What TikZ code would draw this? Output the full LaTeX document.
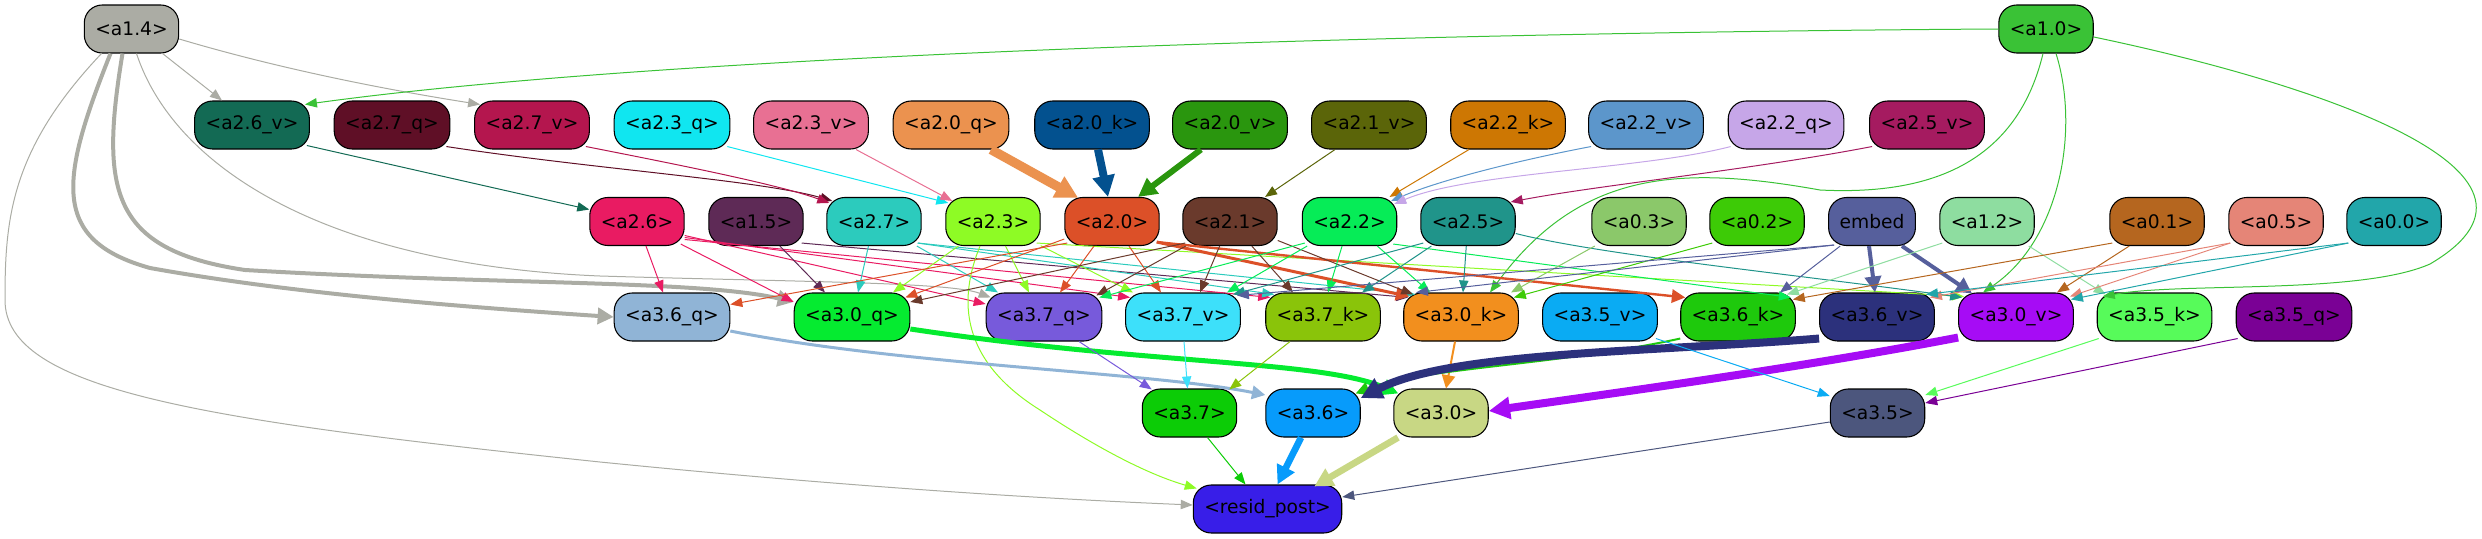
\documentclass[tikz,border=0pt]{standalone}
\usepackage{fontspec}
\setmainfont{DejaVu Sans}
\usetikzlibrary{arrows.meta,calc}
\definecolor{ca14}{HTML}{ABACA4}
\definecolor{ca10}{HTML}{3AC236}
\definecolor{ca26v}{HTML}{136A54}
\definecolor{ca27q}{HTML}{5F0F26}
\definecolor{ca27v}{HTML}{B4164E}
\definecolor{ca23q}{HTML}{10E6F0}
\definecolor{ca23v}{HTML}{E87093}
\definecolor{ca20q}{HTML}{EB924F}
\definecolor{ca20k}{HTML}{03518F}
\definecolor{ca20v}{HTML}{2A960E}
\definecolor{ca21v}{HTML}{5B6509}
\definecolor{ca22k}{HTML}{CD7703}
\definecolor{ca22v}{HTML}{5C96CB}
\definecolor{ca22q}{HTML}{C6A6E8}
\definecolor{ca25v}{HTML}{A51B60}
\definecolor{ca26}{HTML}{E91B62}
\definecolor{ca15}{HTML}{5E2A56}
\definecolor{ca27}{HTML}{2CCBBD}
\definecolor{ca23}{HTML}{8EFB25}
\definecolor{ca20}{HTML}{DC5028}
\definecolor{ca21}{HTML}{6A3A2C}
\definecolor{ca22}{HTML}{06EC57}
\definecolor{ca25}{HTML}{20948A}
\definecolor{ca03}{HTML}{8BC86A}
\definecolor{ca02}{HTML}{3DCB06}
\definecolor{cemb}{HTML}{565F9C}
\definecolor{ca12}{HTML}{8EDDA0}
\definecolor{ca01}{HTML}{B5661F}
\definecolor{ca05}{HTML}{E58577}
\definecolor{ca00}{HTML}{22A6AA}
\definecolor{ca36q}{HTML}{90B4D6}
\definecolor{ca30q}{HTML}{05EB30}
\definecolor{ca37q}{HTML}{775ADB}
\definecolor{ca37v}{HTML}{3DE0FA}
\definecolor{ca37k}{HTML}{8AC40A}
\definecolor{ca30k}{HTML}{F28F1E}
\definecolor{ca35v}{HTML}{0AABF3}
\definecolor{ca36k}{HTML}{1EC90C}
\definecolor{ca36v}{HTML}{2C317C}
\definecolor{ca30v}{HTML}{A60CF5}
\definecolor{ca35k}{HTML}{57FB5A}
\definecolor{ca35q}{HTML}{7A0195}
\definecolor{ca37}{HTML}{0CCC06}
\definecolor{ca36}{HTML}{079BFB}
\definecolor{ca30}{HTML}{C8D784}
\definecolor{ca35}{HTML}{4C567D}
\definecolor{crp}{HTML}{381EE8}
\begin{document}
\begin{tikzpicture}[x=0.75pt,y=-0.75pt,
  nd/.style={draw=black,line width=0.8pt,rounded corners=13.5pt,minimum height=36pt,inner xsep=8.25pt,inner ysep=0pt,font=\fontsize{14}{16}\selectfont,text=black},
  ed/.style={line width=0.75pt,-{Triangle[length=9pt,width=7pt]}},
  tip/.style={-{Triangle[length=#1,width=#1]}}]
\useasboundingbox (0,0) rectangle (2482,539);
% row 1
\node[nd,fill=ca14] (a14) at (131.5,29) {<a1.4>};
\node[nd,fill=ca10] (a10) at (2046,29) {<a1.0>};
% row 2
\node[nd,fill=ca26v] (a26v) at (252,125) {<a2.6\_v>};
\node[nd,fill=ca27q] (a27q) at (392,125) {<a2.7\_q>};
\node[nd,fill=ca27v] (a27v) at (532,125) {<a2.7\_v>};
\node[nd,fill=ca23q] (a23q) at (672,125) {<a2.3\_q>};
\node[nd,fill=ca23v] (a23v) at (811,125) {<a2.3\_v>};
\node[nd,fill=ca20q] (a20q) at (951,125) {<a2.0\_q>};
\node[nd,fill=ca20k] (a20k) at (1092,125) {<a2.0\_k>};
\node[nd,fill=ca20v] (a20v) at (1230,125) {<a2.0\_v>};
\node[nd,fill=ca21v] (a21v) at (1369,125) {<a2.1\_v>};
\node[nd,fill=ca22k] (a22k) at (1508,125) {<a2.2\_k>};
\node[nd,fill=ca22v] (a22v) at (1646,125) {<a2.2\_v>};
\node[nd,fill=ca22q] (a22q) at (1786,125) {<a2.2\_q>};
\node[nd,fill=ca25v] (a25v) at (1927,125) {<a2.5\_v>};
% row 2b
\node[nd,fill=ca26] (a26) at (637,221.5) {<a2.6>};
\node[nd,fill=ca15] (a15) at (756,221.5) {<a1.5>};
\node[nd,fill=ca27] (a27) at (874,221.5) {<a2.7>};
\node[nd,fill=ca23] (a23) at (993,221.5) {<a2.3>};
\node[nd,fill=ca20] (a20) at (1112,221.5) {<a2.0>};
\node[nd,fill=ca21] (a21) at (1230,221.5) {<a2.1>};
\node[nd,fill=ca22] (a22) at (1349.5,221.5) {<a2.2>};
\node[nd,fill=ca25] (a25) at (1468,221.5) {<a2.5>};
\node[nd,fill=ca03] (a03) at (1639,221.5) {<a0.3>};
\node[nd,fill=ca02] (a02) at (1757,221.5) {<a0.2>};
\node[nd,fill=cemb] (emb) at (1872,221.5) {embed};
\node[nd,fill=ca12] (a12) at (1987,221.5) {<a1.2>};
\node[nd,fill=ca01] (a01) at (2157,221.5) {<a0.1>};
\node[nd,fill=ca05] (a05) at (2276,221.5) {<a0.5>};
\node[nd,fill=ca00] (a00) at (2394,221.5) {<a0.0>};
% row 3
\node[nd,fill=ca36q] (a36q) at (672,317) {<a3.6\_q>};
\node[nd,fill=ca30q] (a30q) at (852,317) {<a3.0\_q>};
\node[nd,fill=ca37q] (a37q) at (1044,317) {<a3.7\_q>};
\node[nd,fill=ca37v] (a37v) at (1183,317) {<a3.7\_v>};
\node[nd,fill=ca37k] (a37k) at (1323,317) {<a3.7\_k>};
\node[nd,fill=ca30k] (a30k) at (1461,317) {<a3.0\_k>};
\node[nd,fill=ca35v] (a35v) at (1600,317) {<a3.5\_v>};
\node[nd,fill=ca36k] (a36k) at (1738,317) {<a3.6\_k>};
\node[nd,fill=ca36v] (a36v) at (1877,317) {<a3.6\_v>};
\node[nd,fill=ca30v] (a30v) at (2016,317) {<a3.0\_v>};
\node[nd,fill=ca35k] (a35k) at (2154.5,317) {<a3.5\_k>};
\node[nd,fill=ca35q] (a35q) at (2294,317) {<a3.5\_q>};
% row 4
\node[nd,fill=ca37] (a37) at (1189.5,413) {<a3.7>};
\node[nd,fill=ca36] (a36) at (1313,413) {<a3.6>};
\node[nd,fill=ca30] (a30) at (1441,413) {<a3.0>};
\node[nd,fill=ca35] (a35) at (1877.5,413) {<a3.5>};
% row 5
\node[nd,fill=crp] (rp) at (1267.5,509) {<resid\_post>};

% ---- edges row1 -> row2
\draw[ed,ca14] (a14) -- ($(a26v.north)+(-30,0)$);
\draw[ed,ca14] ($(a14.east)+(0,10)$) .. controls (300,75) and (420,95) .. ($(a27v.north west)+(6,4)$);
\draw[ed,ca10] (a10.west) .. controls (1500,32) and (700,50) .. ($(a26v.north east)+(-5,4)$);
% ---- row2 -> row2b
\draw[ed,ca26v] ($(a26v.south east)+(-3,-4)$) -- ($(a26.west)+(0,-12)$);
\draw[ed,ca27q] ($(a27q.south east)+(-4,-3)$) .. controls (600,170) and (760,180) .. ($(a27.north west)+(6,4)$);
\draw[ed,ca27v] ($(a27v.south east)+(-4,-3)$) .. controls (680,165) and (780,185) .. ($(a27.north west)+(3,6)$);
\draw[ed,ca23q] ($(a23q.south east)+(-3,-3)$) -- ($(a23.north west)+(3,6)$);
\draw[ed,ca23v] ($(a23v.south)+(45,0)$) -- ($(a23.north west)+(7,4)$);
\draw[ca20q,line width=7pt,tip=17pt] ($(a20q.south)+(40,0)$) -- ($(a20.north west)+(14,1)$);
\draw[ca20k,line width=6pt,tip=16pt] ($(a20k.south)+(6,0)$) -- ($(a20.north)+(-4,0)$);
\draw[ca20v,line width=4.5pt,tip=14pt] ($(a20v.south)+(-29,0)$) -- ($(a20.north)+(26,0)$);
\draw[ed,ca21v] ($(a21v.south)+(-34,0)$) -- ($(a21.north)+(35,0)$);
\draw[ed,ca22k] ($(a22k.south)+(-39,0)$) -- ($(a22.north)+(40,0)$);
\draw[ed,ca22v] ($(a22v.south west)+(3,-3)$) .. controls (1520,160) and (1440,180) .. ($(a22.north east)+(-6,4)$);
\draw[ed,ca22q] ($(a22q.south west)+(3,-3)$) .. controls (1640,170) and (1470,172) .. ($(a22.north east)+(-3,7)$);
\draw[ed,ca25v] ($(a25v.south west)+(3,-3)$) .. controls (1750,170) and (1600,185) .. ($(a25.north east)+(-5,5)$);
% ---- a1.4 long edges
\draw[ca14,line width=3pt,tip=12pt] ($(a14.south)+(-21,0)$) .. controls (60,180) and (50,240) .. (150,268) .. controls (300,295) and (480,308) .. (a36q.west);
\draw[ca14,line width=3pt,tip=12pt] ($(a14.south)+(-9,0)$) .. controls (100,190) and (110,250) .. (245,270) .. controls (500,285) and (700,280) .. ($(a30q.west)+(0,-15)$);
\draw[ed,ca14] ($(a14.south)+(5,0)$) .. controls (175,170) and (330,265) .. (600,276) .. controls (800,282) and (950,282) .. ($(a37q.north west)+(5,5)$);
\draw[ed,ca14] ($(a14.south)+(-30,0)$) .. controls (10,150) and (5,220) .. (5,300) .. controls (5,390) and (200,420) .. (600,462) .. controls (800,482) and (1000,497) .. ($(rp.west)+(0,-4)$);
% ---- a1.0 long edges
\draw[ed,ca10] ($(a10.south)+(-3,0)$) .. controls (2015,170) and (1920,195) .. (1820,190) .. controls (1680,165) and (1580,170) .. ($(a30k.north)+(29,0)$);
\draw[ed,ca10] ($(a10.south)+(10,0)$) .. controls (2080,130) and (2060,240) .. ($(a30v.north)+(-33,0)$);
\draw[ed,ca10] ($(a10.east)+(0,8)$) .. controls (2300,80) and (2590,170) .. (2430,264) .. controls (2360,295) and (2180,282) .. ($(a35k.north west)+(6,4)$);
% ---- a2.6
\draw[ed,ca26] (a26) -- ($(a36q.north)+(-9,0)$);
\draw[ed,ca26] ($(a26.south east)+(-4,-2)$) -- ($(a30q.west)+(0,-15)$);
\draw[ed,ca26] ($(a26.east)+(0,14)$) -- ($(a37q.west)+(0,-13)$);
\draw[ed,ca26] ($(a26.east)+(0,16)$) -- ($(a37v.north west)+(5,5)$);
\draw[ed,ca26] ($(a26.east)+(0,18)$) -- ($(a37k.north west)+(5,5)$);
% ---- a1.5
\draw[ed,ca15] (a15) -- ($(a30q.north)+(-27,0)$);
\draw[ed,ca15] ($(a15.south east)+(-2,-3)$) -- ($(a30k.north west)+(5,5)$);
% ---- a2.7
\draw[ed,ca27] (a27) -- ($(a30q.north)+(6,0)$);
\draw[ed,ca27] (a27) -- ($(a37q.north)+(-46,0)$);
\draw[ed,ca27] ($(a27.south east)+(-4,-3)$) -- ($(a37k.north west)+(9,2)$);
\draw[ed,ca27] ($(a27.south east)+(-4,-3)$) -- ($(a30k.north west)+(12,2)$);
% ---- a2.3
\draw[ed,ca23] (a23) -- ($(a30q.north)+(41,0)$);
\draw[ed,ca23] (a23) -- ($(a37q.north)+(-15,0)$);
\draw[ed,ca23] (a23) -- ($(a37v.north)+(-50,0)$);
\draw[ed,ca23] ($(a23.south east)+(-4,-3)$) -- ($(a30v.north west)+(6,4)$);
\draw[ed,ca23] ($(a23.south)+(-13,0)$) .. controls (958,300) and (960,360) .. (1040,410) .. controls (1100,450) and (1150,475) .. ($(rp.north west)+(4,4)$);
% ---- a2.0
\draw[ed,ca20] ($(a20.south west)+(3,-3)$) -- ($(a36q.north east)+(0,12)$);
\draw[ed,ca20] (a20) -- ($(a30q.north east)+(-5,5)$);
\draw[ed,ca20] (a20) -- ($(a37q.north)+(16,0)$);
\draw[ed,ca20] (a20) -- ($(a37v.north)+(-22,0)$);
\draw[ca20,line width=2.25pt,tip=10pt] ($(a20.south east)+(-3,-4)$) -- ($(a30k.north west)+(6,4)$);
\draw[ca20,line width=1.8pt,tip=10pt] ($(a20.south east)+(-3,-4)$) -- ($(a36k.north west)+(5,5)$);
% ---- a2.1
\draw[ed,ca21] ($(a21.south west)+(3,-3)$) -- ($(a30q.east)+(0,-15)$);
\draw[ed,ca21] (a21) -- ($(a37q.north east)+(-6,3)$);
\draw[ed,ca21] (a21) -- ($(a37v.north)+(17,0)$);
\draw[ed,ca21] (a21) -- ($(a37k.north)+(-30,0)$);
\draw[ed,ca21] (a21) -- ($(a30k.north west)+(10,2)$);
% ---- a2.2
\draw[ed,ca22] ($(a22.south west)+(3,-3)$) -- ($(a37q.north east)+(-3,5)$);
\draw[ed,ca22] (a22) -- ($(a37v.north)+(44,0)$);
\draw[ed,ca22] (a22) -- ($(a37k.north)+(5,0)$);
\draw[ed,ca22] (a22) -- ($(a30k.north)+(-31,0)$);
\draw[ed,ca22] ($(a22.south east)+(-4,-2)$) -- ($(a36k.north east)+(-5,5)$);
% ---- a2.5
\draw[ed,ca25] ($(a25.south west)+(3,-3)$) -- ($(a37v.north east)+(-8,2)$);
\draw[ed,ca25] (a25) -- ($(a37k.north)+(39,0)$);
\draw[ed,ca25] (a25) -- ($(a30k.north)+(2,0)$);
\draw[ed,ca25] ($(a25.east)+(0,12)$) .. controls (1600,255) and (1800,275) .. ($(a30v.north west)+(4,5)$);
% ---- a0.3, a0.2
\draw[ed,ca03] (a03) -- ($(a30k.north)+(50,0)$);
\draw[ed,ca02] ($(a02.south west)+(3,-3)$) -- ($(a30k.north east)+(-5,5)$);
% ---- embed
\draw[ed,cemb] ($(emb.south west)+(6,-1)$) -- ($(a37v.north east)+(-4,3)$);
\draw[ed,cemb] ($(emb.south west)+(6,-1)$) -- ($(a30k.north)+(-45,0)$);
\draw[ed,cemb] (emb) -- ($(a36k.north)+(42,0)$);
\draw[cemb,line width=3pt,tip=12pt] ($(emb.south)+(-3,0)$) -- ($(a36v.north)+(-2,0)$);
\draw[cemb,line width=3pt,tip=12pt] ($(emb.south east)+(-14,0)$) -- ($(a30v.north west)+(14,1)$);
% ---- a1.2, a0.1, a0.5, a0.0
\draw[ed,ca12] ($(a12.south west)+(3,-3)$) -- ($(a36k.north east)+(-9,2)$);
\draw[ed,ca12] ($(a12.south east)+(-6,0)$) -- ($(a35k.north west)+(9,2)$);
\draw[ed,ca01] ($(a01.south west)+(3,-3)$) -- ($(a36k.north east)+(-3,7)$);
\draw[ed,ca01] ($(a01.south west)+(20,0)$) -- ($(a30v.north)+(41,0)$);
\draw[ed,ca05] ($(a05.south west)+(2,-3)$) -- ($(a36v.north east)+(-5,5)$);
\draw[ed,ca05] ($(a05.south west)+(2,-3)$) -- ($(a30v.north east)+(-4,4)$);
\draw[ed,ca00] ($(a00.south west)+(2,-3)$) -- ($(a36v.north east)+(-9,2)$);
\draw[ed,ca00] ($(a00.south west)+(2,-3)$) -- ($(a30v.north east)+(-3,7)$);
% ---- row3 -> row4
\draw[ca36q,line width=2.25pt,tip=10pt] ($(a36q.east)+(0,14)$) .. controls (900,365) and (1150,372) .. ($(a36.west)+(0,-18)$);
\draw[ca30q,line width=3.75pt,tip=12pt] ($(a30q.east)+(0,12)$) .. controls (1150,365) and (1320,360) .. ($(a30.north west)+(5,5)$);
\draw[ed,ca37q] ($(a37q.south)+(35,0)$) -- ($(a37.north west)+(10,1)$);
\draw[ed,ca37v] ($(a37v.south)+(1,0)$) -- ($(a37.north)+(-2,0)$);
\draw[ed,ca37k] ($(a37k.south)+(-33,0)$) -- ($(a37.north east)+(-8,1)$);
\draw[ca30k,line width=1.5pt,tip=10pt] ($(a30k.south)+(-6,0)$) -- ($(a30.north)+(5,0)$);
\draw[ca36k,line width=1.5pt,tip=10pt] ($(a36k.south west)+(0,-3)$) .. controls (1560,365) and (1420,368) .. ($(a36.north east)+(-5,5)$);
\draw[ca36v,line width=6pt,tip=16pt] ($(a36v.south west)+(0,-3)$) .. controls (1650,352) and (1450,352) .. ($(a36.east)+(0,-15)$);
\draw[ca30v,line width=6pt,tip=16pt] ($(a30v.south west)+(0,-4)$) .. controls (1800,368) and (1600,395) .. ($(a30.east)+(0,-2)$);
\draw[ed,ca35v] ($(a35v.south east)+(-2,-3)$) -- ($(a35.west)+(0,-17)$);
\draw[ed,ca35k] ($(a35k.south west)+(2,-3)$) -- ($(a35.east)+(0,-18)$);
\draw[ed,ca35q] ($(a35q.south west)+(2,-3)$) -- ($(a35.east)+(0,-10)$);
% ---- row4 -> resid_post
\draw[ed,ca37] ($(a37.south)+(18,0)$) -- ($(rp.north)+(-22,0)$);
\draw[ca36,line width=5pt,tip=14pt] ($(a36.south)+(-12,0)$) -- ($(rp.north)+(10,0)$);
\draw[ca30,line width=5pt,tip=14pt] ($(a30.south)+(-43,0)$) -- ($(rp.north east)+(-28,2)$);
\draw[ed,ca35] ($(a35.west)+(0,9)$) -- ($(rp.east)+(0,-12)$);
\end{tikzpicture}
\end{document}
